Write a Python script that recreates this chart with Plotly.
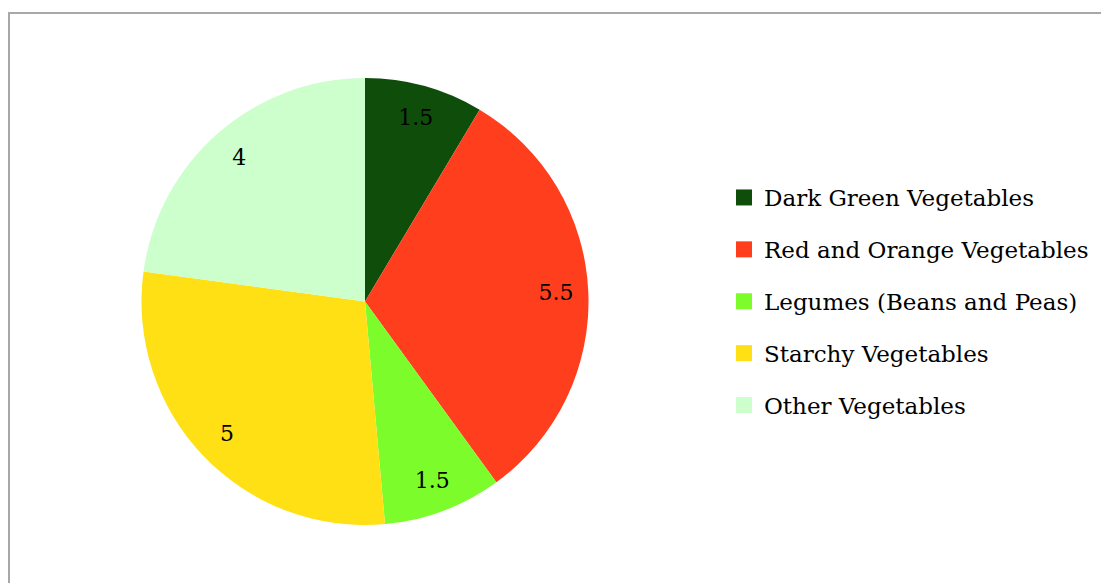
import plotly.graph_objects as go

categories = ["Dark Green Vegetables", "Red and Orange Vegetables", "Legumes (Beans and Peas)",
              "Starchy Vegetables", "Other Vegetables"]
values = [1.5, 5.5, 1.5, 5, 4]
colors = ["#0F4D0B", "#FF3E1E", "#7CFC2A", "#FFE014", "#CCFFCC"]

W, H = 1101, 583
FONT = "DejaVu Serif"

fig = go.Figure()

domain = dict(x=[141 / W, 589 / W], y=[1 - 525 / H, 1 - 78 / H])

# the pie itself
fig.add_trace(go.Pie(
    labels=categories, values=values, sort=False, direction="clockwise", rotation=0,
    marker=dict(colors=colors, line=dict(width=0)), textinfo="none",
    showlegend=False, domain=domain,
))
# labels placed within the outer ring of each slice
fig.add_trace(go.Pie(
    labels=categories, values=values, sort=False, direction="clockwise", rotation=0,
    hole=0.71, marker=dict(colors=["rgba(0,0,0,0)"] * len(values), line=dict(width=0)),
    textinfo="value", textposition="inside", insidetextorientation="horizontal",
    textfont=dict(family=FONT, size=22, color="black"),
    showlegend=False, hoverinfo="skip", domain=domain,
))
# legend entries
for i, (c, col) in enumerate(zip(categories, colors)):
    fig.add_trace(go.Scatter(
        x=[None], y=[None], mode="markers", name=c, legendgroup=str(i),
        marker=dict(symbol="square", size=16, color=col),
    ))

fig.update_layout(
    width=W, height=H,
    margin=dict(l=0, r=0, t=0, b=0),
    paper_bgcolor="white", plot_bgcolor="white",
    xaxis=dict(visible=False), yaxis=dict(visible=False),
    legend=dict(
        x=724 / W, xanchor="left", y=1 - 176 / H, yanchor="top",
        font=dict(family=FONT, size=23, color="black"),
        tracegroupgap=19, bgcolor="rgba(0,0,0,0)",
    ),
    shapes=[dict(type="rect", xref="paper", yref="paper",
                 x0=9 / W, x1=1.1, y0=-0.1, y1=1 - 13 / H,
                 line=dict(color="#A8A8A8", width=2), fillcolor="rgba(0,0,0,0)", layer="below")],
)

fig.write_html("out.html")
